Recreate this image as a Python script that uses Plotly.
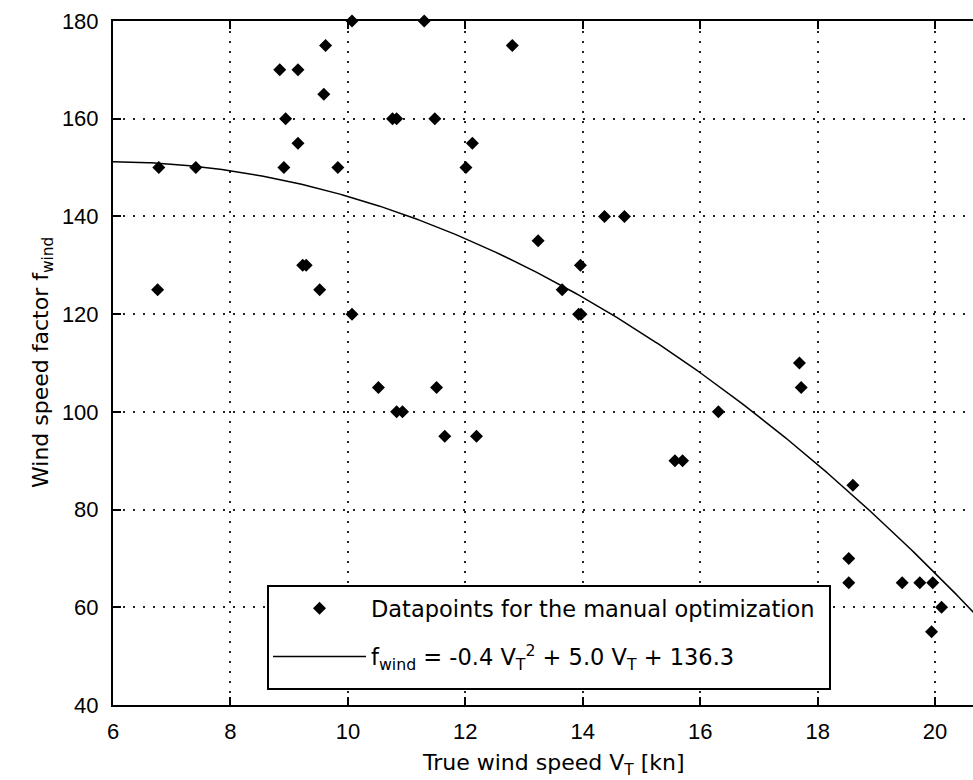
import numpy as np
import plotly.graph_objects as go

# Data points
wind_speed = [6.78, 7.41, 6.76, 8.84, 9.15, 9.62, 9.59, 8.94, 9.15, 8.91, 9.83,
              9.23, 9.29, 9.52, 10.07, 10.07, 11.30, 12.80, 10.76, 10.83, 11.48,
              12.12, 12.01, 14.37, 14.71, 13.24, 13.96, 13.65, 13.93, 13.97,
              10.52, 11.51, 10.83, 10.93, 11.65, 12.19, 17.69, 17.72, 16.31,
              15.57, 15.70, 18.60, 18.53, 18.53, 19.44, 19.74, 19.96, 20.11, 19.94]
speed_factor = [150, 150, 125, 170, 170, 175, 165, 160, 155, 150, 150,
                130, 130, 125, 180, 120, 180, 175, 160, 160, 160,
                155, 150, 140, 140, 135, 130, 125, 120, 120,
                105, 105, 100, 100, 95, 95, 110, 105, 100,
                90, 90, 85, 70, 65, 65, 65, 65, 60, 55]

# Quadratic fit coefficients (as drawn in the reference)
fit_coef = [-0.424, 5.01, 136.4]
fit_x_range = [6, 21]

x_ticks = [6, 8, 10, 12, 14, 16, 18, 20]
y_ticks = [40, 60, 80, 100, 120, 140, 160, 180]

fit_x = np.linspace(fit_x_range[0], fit_x_range[1], 300)
fit_y = np.polyval(fit_coef, fit_x)

TXT = "DejaVu Sans"
NUM = "Liberation Sans"

fig = go.Figure()
fig.add_trace(go.Scatter(
    x=wind_speed, y=speed_factor, mode="markers",
    marker=dict(symbol="diamond", size=10, color="black"),
    name="Datapoints for the manual optimization",
    legendgroup="a", cliponaxis=False,
))
fig.add_trace(go.Scatter(
    x=fit_x, y=fit_y, mode="lines",
    line=dict(color="black", width=1.5),
    name="f<sub>wind</sub> = -0.4 V<sub>T</sub><sup>2</sup> + 5.0 V<sub>T</sub> + 136.3",
    legendgroup="b",
))

L, R, T, B = 113, 0, 21, 75
W, H = 973, 780
pw = W - L - R
ph = H - T - B

def px_x(p):
    return (p - L) / pw

def px_y(p):
    return (H - B - p) / ph

fig.update_layout(
    width=W, height=H,
    margin=dict(l=L, r=R, t=T, b=B, pad=0),
    paper_bgcolor="white", plot_bgcolor="white",
    showlegend=True,
    legend=dict(
        x=px_x(268), xanchor="left",
        y=px_y(587), yanchor="top",
        borderwidth=0, bgcolor="rgba(0,0,0,0)",
        font=dict(family=TXT, size=22.5, color="black"),
        itemwidth=93, traceorder="grouped", tracegroupgap=16,
    ),
    shapes=[
        dict(type="rect", xref="paper", yref="paper",
             x0=px_x(268), x1=px_x(830), y0=px_y(689), y1=px_y(586),
             line=dict(color="black", width=2), fillcolor="white", layer="above"),
    ],
    annotations=[
        dict(text="True wind speed V<sub>T</sub> [kn]", xref="paper", yref="paper",
             x=px_x(553), y=px_y(748), xanchor="center", yanchor="top",
             showarrow=False, font=dict(family=TXT, size=22, color="black")),
        dict(text="Wind speed factor f<sub>wind</sub>", xref="paper", yref="paper",
             x=px_x(42), y=0.5, xanchor="center", yanchor="middle",
             textangle=-90, showarrow=False,
             font=dict(family=TXT, size=22, color="black")),
    ],
)
fig.update_xaxes(
    range=[6, 6 + pw / 58.72], tickvals=x_ticks, ticktext=[str(v) for v in x_ticks],
    showline=True, linecolor="black", linewidth=2, mirror="ticks",
    ticks="inside", ticklen=8, tickwidth=2, tickcolor="black",
    showgrid=True, gridcolor="#222", gridwidth=1.5, griddash="2px,8px",
    zeroline=False, tickfont=dict(family=NUM, size=22, color="black"),
    ticklabelstandoff=6,
)
fig.update_yaxes(
    range=[40, 180], tickvals=y_ticks, ticktext=[str(v) for v in y_ticks],
    showline=True, linecolor="black", linewidth=2, mirror=False,
    ticks="inside", ticklen=8, tickwidth=2, tickcolor="black",
    showgrid=True, gridcolor="#222", gridwidth=1.5, griddash="2px,8px",
    zeroline=False, tickfont=dict(family=NUM, size=22, color="black"),
    ticklabelstandoff=8,
)

fig.write_html("out.html")
